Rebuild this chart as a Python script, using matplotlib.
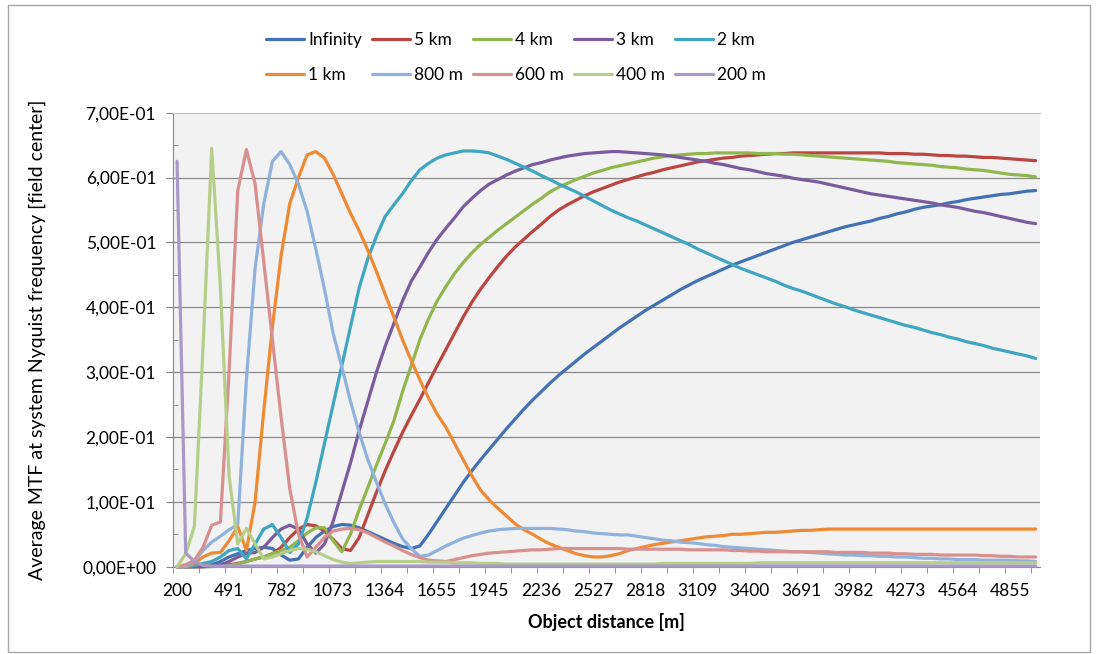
import numpy as np
import matplotlib.pyplot as plt
from matplotlib.patches import Rectangle
from matplotlib.ticker import FixedLocator, FuncFormatter

plt.rcParams['font.family'] = ['Lato', 'DejaVu Sans']

# category labels shown on the x axis (every 6th category)
tick_labels = ['200', '491', '782', '1073', '1364', '1655', '1945', '2236', '2527',
               '2818', '3109', '3400', '3691', '3982', '4273', '4564', '4855']

series_names = ['Infinity', '5 km', '4 km', '3 km', '2 km',
                '1 km', '800 m', '600 m', '400 m', '200 m']
series_colors = ['#4272B4', '#BA4541', '#92B64E', '#7A5C9E', '#3FA6C2',
                 '#EE8A34', '#8FB2DC', '#D8908E', '#B5CF8A', '#A899C8']

mtf_inf = [
    0.000, 0.000, 0.000, 0.001, 0.003, 0.008, 0.015, 0.020, 0.025, 0.028,
    0.030, 0.028, 0.018, 0.010, 0.012, 0.030, 0.045, 0.055, 0.062, 0.065,
    0.064, 0.060, 0.054, 0.048, 0.042, 0.036, 0.031, 0.028, 0.032, 0.050,
    0.070, 0.090, 0.110, 0.130, 0.148, 0.165, 0.181, 0.197, 0.213, 0.228,
    0.243, 0.257, 0.270, 0.283, 0.295, 0.306, 0.317, 0.328, 0.338, 0.348,
    0.358, 0.368, 0.377, 0.386, 0.395, 0.403, 0.411, 0.419, 0.427, 0.434,
    0.441, 0.447, 0.453, 0.459, 0.465, 0.470, 0.475, 0.480, 0.485, 0.490,
    0.495, 0.500, 0.504, 0.508, 0.512, 0.516, 0.520, 0.524, 0.527, 0.530,
    0.533, 0.537, 0.540, 0.544, 0.547, 0.551, 0.554, 0.556, 0.558, 0.561,
    0.563, 0.566, 0.568, 0.570, 0.572, 0.574, 0.575, 0.577, 0.579, 0.580]

mtf_5km = [
    0.000, 0.000, 0.000, 0.000, 0.001, 0.002, 0.003, 0.005, 0.008, 0.012,
    0.015, 0.020, 0.030, 0.045, 0.058, 0.065, 0.063, 0.055, 0.042, 0.028,
    0.025, 0.045, 0.080, 0.115, 0.148, 0.178, 0.207, 0.233, 0.258, 0.284,
    0.310, 0.335, 0.360, 0.385, 0.408, 0.428, 0.446, 0.463, 0.479, 0.493,
    0.505, 0.517, 0.528, 0.540, 0.550, 0.558, 0.565, 0.572, 0.578, 0.583,
    0.588, 0.593, 0.597, 0.601, 0.605, 0.608, 0.612, 0.615, 0.618, 0.621,
    0.624, 0.626, 0.628, 0.630, 0.631, 0.633, 0.634, 0.635, 0.636, 0.637,
    0.637, 0.638, 0.638, 0.638, 0.638, 0.638, 0.638, 0.638, 0.638, 0.638,
    0.638, 0.638, 0.637, 0.637, 0.637, 0.636, 0.636, 0.635, 0.634, 0.634,
    0.633, 0.633, 0.632, 0.631, 0.631, 0.630, 0.629, 0.628, 0.627, 0.626]

mtf_4km = [
    0.000, 0.000, 0.000, 0.000, 0.000, 0.001, 0.002, 0.004, 0.008, 0.012,
    0.015, 0.020, 0.025, 0.030, 0.040, 0.052, 0.060, 0.060, 0.040, 0.023,
    0.050, 0.088, 0.122, 0.157, 0.190, 0.225, 0.270, 0.310, 0.350, 0.382,
    0.410, 0.432, 0.452, 0.469, 0.484, 0.497, 0.508, 0.519, 0.529, 0.539,
    0.549, 0.559, 0.568, 0.578, 0.585, 0.591, 0.597, 0.602, 0.607, 0.611,
    0.615, 0.618, 0.621, 0.624, 0.627, 0.630, 0.632, 0.634, 0.635, 0.636,
    0.637, 0.637, 0.638, 0.638, 0.638, 0.638, 0.638, 0.637, 0.637, 0.637,
    0.636, 0.636, 0.635, 0.634, 0.633, 0.632, 0.631, 0.630, 0.629, 0.628,
    0.627, 0.626, 0.625, 0.623, 0.622, 0.621, 0.620, 0.619, 0.617, 0.616,
    0.615, 0.613, 0.612, 0.611, 0.609, 0.607, 0.605, 0.604, 0.603, 0.601]

mtf_3km = [
    0.000, 0.000, 0.000, 0.000, 0.001, 0.003, 0.008, 0.015, 0.020, 0.022,
    0.030, 0.045, 0.058, 0.064, 0.058, 0.035, 0.021, 0.035, 0.070, 0.115,
    0.160, 0.210, 0.255, 0.300, 0.340, 0.375, 0.410, 0.440, 0.462, 0.485,
    0.505, 0.522, 0.538, 0.555, 0.568, 0.580, 0.590, 0.597, 0.604, 0.610,
    0.615, 0.620, 0.623, 0.627, 0.630, 0.633, 0.635, 0.637, 0.638, 0.639,
    0.640, 0.640, 0.639, 0.638, 0.637, 0.636, 0.635, 0.633, 0.631, 0.629,
    0.627, 0.625, 0.622, 0.620, 0.617, 0.614, 0.612, 0.609, 0.606, 0.604,
    0.602, 0.599, 0.597, 0.595, 0.593, 0.590, 0.587, 0.584, 0.581, 0.578,
    0.575, 0.573, 0.571, 0.569, 0.567, 0.565, 0.563, 0.561, 0.558, 0.556,
    0.554, 0.551, 0.548, 0.546, 0.543, 0.540, 0.537, 0.534, 0.531, 0.529]

mtf_2km = [
    0.000, 0.000, 0.002, 0.005, 0.008, 0.015, 0.025, 0.028, 0.012, 0.035,
    0.058, 0.065, 0.045, 0.022, 0.035, 0.075, 0.130, 0.190, 0.250, 0.310,
    0.370, 0.430, 0.475, 0.510, 0.540, 0.558, 0.575, 0.595, 0.612, 0.622,
    0.630, 0.635, 0.638, 0.641, 0.641, 0.640, 0.638, 0.633, 0.628, 0.622,
    0.616, 0.610, 0.603, 0.597, 0.590, 0.584, 0.578, 0.571, 0.564, 0.557,
    0.550, 0.544, 0.538, 0.533, 0.527, 0.521, 0.515, 0.509, 0.503, 0.497,
    0.490, 0.484, 0.478, 0.472, 0.466, 0.460, 0.455, 0.450, 0.445, 0.440,
    0.434, 0.429, 0.425, 0.420, 0.415, 0.410, 0.405, 0.401, 0.396, 0.392,
    0.388, 0.384, 0.380, 0.376, 0.372, 0.369, 0.365, 0.361, 0.358, 0.354,
    0.351, 0.347, 0.344, 0.341, 0.337, 0.334, 0.331, 0.328, 0.325, 0.321]

mtf_1km = [
    0.000, 0.000, 0.005, 0.015, 0.021, 0.022, 0.040, 0.062, 0.025, 0.100,
    0.240, 0.370, 0.480, 0.560, 0.600, 0.635, 0.640, 0.630, 0.605, 0.575,
    0.545, 0.518, 0.488, 0.455, 0.420, 0.385, 0.350, 0.318, 0.288, 0.260,
    0.235, 0.215, 0.190, 0.165, 0.140, 0.118, 0.103, 0.090, 0.078, 0.066,
    0.057, 0.050, 0.042, 0.035, 0.030, 0.025, 0.020, 0.017, 0.015, 0.015,
    0.017, 0.020, 0.025, 0.028, 0.031, 0.034, 0.036, 0.038, 0.040, 0.042,
    0.044, 0.046, 0.047, 0.048, 0.050, 0.050, 0.051, 0.052, 0.053, 0.053,
    0.054, 0.055, 0.056, 0.056, 0.057, 0.058, 0.058, 0.058, 0.058, 0.058,
    0.058, 0.058, 0.058, 0.058, 0.058, 0.058, 0.058, 0.058, 0.058, 0.058,
    0.058, 0.058, 0.058, 0.058, 0.058, 0.058, 0.058, 0.058, 0.058, 0.058]

mtf_800m = [
    0.000, 0.000, 0.008, 0.025, 0.038, 0.047, 0.057, 0.065, 0.290, 0.460,
    0.560, 0.625, 0.640, 0.620, 0.590, 0.548, 0.490, 0.428, 0.360, 0.308,
    0.255, 0.207, 0.165, 0.130, 0.097, 0.068, 0.043, 0.028, 0.016, 0.018,
    0.025, 0.032, 0.038, 0.044, 0.048, 0.052, 0.055, 0.057, 0.058, 0.059,
    0.059, 0.059, 0.059, 0.059, 0.058, 0.057, 0.055, 0.054, 0.052, 0.051,
    0.050, 0.049, 0.049, 0.047, 0.045, 0.043, 0.041, 0.040, 0.038, 0.037,
    0.036, 0.034, 0.033, 0.031, 0.030, 0.029, 0.028, 0.027, 0.026, 0.025,
    0.024, 0.023, 0.023, 0.022, 0.021, 0.020, 0.019, 0.018, 0.018, 0.017,
    0.017, 0.016, 0.016, 0.015, 0.015, 0.014, 0.013, 0.013, 0.012, 0.012,
    0.011, 0.011, 0.011, 0.010, 0.010, 0.010, 0.010, 0.009, 0.009, 0.008]

mtf_600m = [
    0.000, 0.003, 0.010, 0.030, 0.064, 0.069, 0.300, 0.580, 0.643, 0.590,
    0.470, 0.350, 0.230, 0.120, 0.050, 0.015, 0.030, 0.045, 0.055, 0.058,
    0.059, 0.057, 0.052, 0.045, 0.038, 0.032, 0.025, 0.019, 0.014, 0.010,
    0.009, 0.008, 0.011, 0.014, 0.017, 0.019, 0.021, 0.022, 0.023, 0.024,
    0.025, 0.026, 0.026, 0.027, 0.028, 0.028, 0.028, 0.028, 0.028, 0.028,
    0.028, 0.028, 0.027, 0.027, 0.027, 0.027, 0.027, 0.027, 0.027, 0.026,
    0.026, 0.026, 0.026, 0.026, 0.025, 0.025, 0.024, 0.024, 0.023, 0.023,
    0.023, 0.023, 0.023, 0.023, 0.023, 0.023, 0.022, 0.022, 0.022, 0.022,
    0.021, 0.021, 0.021, 0.020, 0.020, 0.019, 0.019, 0.019, 0.018, 0.018,
    0.018, 0.018, 0.018, 0.017, 0.017, 0.016, 0.016, 0.015, 0.015, 0.015]

mtf_400m = [
    0.000, 0.020, 0.062, 0.340, 0.645, 0.430, 0.140, 0.035, 0.059, 0.035,
    0.012, 0.015, 0.020, 0.025, 0.028, 0.027, 0.023, 0.017, 0.011, 0.007,
    0.005, 0.006, 0.007, 0.008, 0.008, 0.008, 0.008, 0.008, 0.008, 0.007,
    0.007, 0.007, 0.006, 0.006, 0.006, 0.005, 0.005, 0.005, 0.004, 0.004,
    0.004, 0.004, 0.004, 0.004, 0.004, 0.004, 0.004, 0.004, 0.004, 0.004,
    0.004, 0.004, 0.004, 0.004, 0.004, 0.004, 0.005, 0.005, 0.005, 0.005,
    0.005, 0.005, 0.005, 0.005, 0.005, 0.005, 0.005, 0.006, 0.006, 0.006,
    0.006, 0.006, 0.006, 0.006, 0.006, 0.006, 0.006, 0.006, 0.006, 0.006,
    0.006, 0.006, 0.006, 0.006, 0.006, 0.006, 0.006, 0.006, 0.006, 0.006,
    0.006, 0.006, 0.006, 0.006, 0.006, 0.006, 0.006, 0.006, 0.006, 0.006]

mtf_200m = [
    0.625, 0.021, 0.008, 0.002, 0.001, 0.001, 0.001, 0.001, 0.001, 0.001,
    0.001, 0.001, 0.001, 0.001, 0.001, 0.001, 0.001, 0.001, 0.001, 0.001,
    0.001, 0.001, 0.001, 0.001, 0.001, 0.001, 0.001, 0.001, 0.001, 0.001,
    0.001, 0.001, 0.001, 0.001, 0.001, 0.001, 0.001, 0.001, 0.001, 0.001,
    0.001, 0.001, 0.001, 0.001, 0.001, 0.001, 0.001, 0.001, 0.001, 0.001,
    0.001, 0.001, 0.001, 0.001, 0.001, 0.001, 0.001, 0.001, 0.001, 0.001,
    0.001, 0.001, 0.001, 0.001, 0.001, 0.001, 0.001, 0.001, 0.001, 0.001,
    0.001, 0.001, 0.001, 0.001, 0.001, 0.001, 0.001, 0.001, 0.001, 0.001,
    0.001, 0.001, 0.001, 0.001, 0.001, 0.001, 0.001, 0.001, 0.001, 0.001,
    0.001, 0.001, 0.001, 0.001, 0.001, 0.001, 0.001, 0.001, 0.001, 0.001]

all_series = [mtf_inf, mtf_5km, mtf_4km, mtf_3km, mtf_2km,
              mtf_1km, mtf_800m, mtf_600m, mtf_400m, mtf_200m]

W, H = 1097, 654
fig = plt.figure(figsize=(W / 100, H / 100), dpi=100)
fig.patches.append(Rectangle((8 / W, 2 / H), 1082 / W, 647 / H, transform=fig.transFigure,
                             fill=False, edgecolor='#A6A6A6', lw=1.0))

left, right, top, bottom = 172.7, 1040, 112.7, 566.7
ax = fig.add_axes([left / W, 1 - bottom / H, (right - left) / W, (bottom - top) / H])
ax.set_facecolor('#F2F2F2')

n = len(mtf_inf)
cats = np.arange(n)
lines = []
for vals, name, col in zip(all_series, series_names, series_colors):
    ln, = ax.plot(cats, vals, color=col, lw=2.3, label=name, clip_on=False,
                  solid_joinstyle='round', solid_capstyle='round', zorder=3)
    lines.append(ln)

ax.set_xlim(-0.5, n - 0.5)
ax.set_ylim(0, 0.7)

# horizontal gridlines
for g in [0.1, 0.2, 0.3, 0.4, 0.5, 0.6]:
    ax.axhline(g, color='#8A8A8A', lw=0.9, zorder=1)

ax.spines['right'].set_visible(False)
ax.spines['top'].set_color('#BFBFBF')
ax.spines['left'].set_color('#868686')
ax.spines['bottom'].set_color('#868686')

# y axis: major ticks outside, minor ticks inside
ax.set_yticks(np.arange(0, 0.71, 0.1))
ax.yaxis.set_minor_locator(FixedLocator(np.arange(0.05, 0.7, 0.1)))
ax.yaxis.set_major_formatter(FuncFormatter(lambda v, p: f'{v:.2E}'.replace('.', ',')))
ax.tick_params(axis='y', which='major', direction='out', length=5, color='#868686',
               labelsize=12.5, pad=7)
ax.tick_params(axis='y', which='minor', direction='in', length=3.5, color='#868686')

# x axis: labels every 6th category, tick marks between categories every 3
ax.set_xticks(cats[::6])
ax.set_xticklabels(tick_labels)
ax.xaxis.set_minor_locator(FixedLocator(np.arange(-0.5, n - 0.5, 3)))
ax.tick_params(axis='x', which='major', length=0, labelsize=12.5, pad=12)
ax.tick_params(axis='x', which='minor', direction='out', length=4.5, color='#868686')

ax.set_xlabel('Object distance [m]', fontsize=13, fontweight='bold', labelpad=10)
ax.set_ylabel('Average MTF at system Nyquist frequency [field center]', fontsize=14)
ax.yaxis.set_label_coords(-0.146, 0.5)

order = [0, 5, 1, 6, 2, 7, 3, 8, 4, 9]
fig.legend([lines[k] for k in order], [series_names[k] for k in order], ncol=5,
           loc='center', bbox_to_anchor=(516 / W, 1 - 57.5 / H), frameon=False,
           fontsize=12.5, handlelength=2.2, handletextpad=0.25, columnspacing=0.55,
           labelspacing=1.1)

fig.savefig('out.png', dpi=100)
